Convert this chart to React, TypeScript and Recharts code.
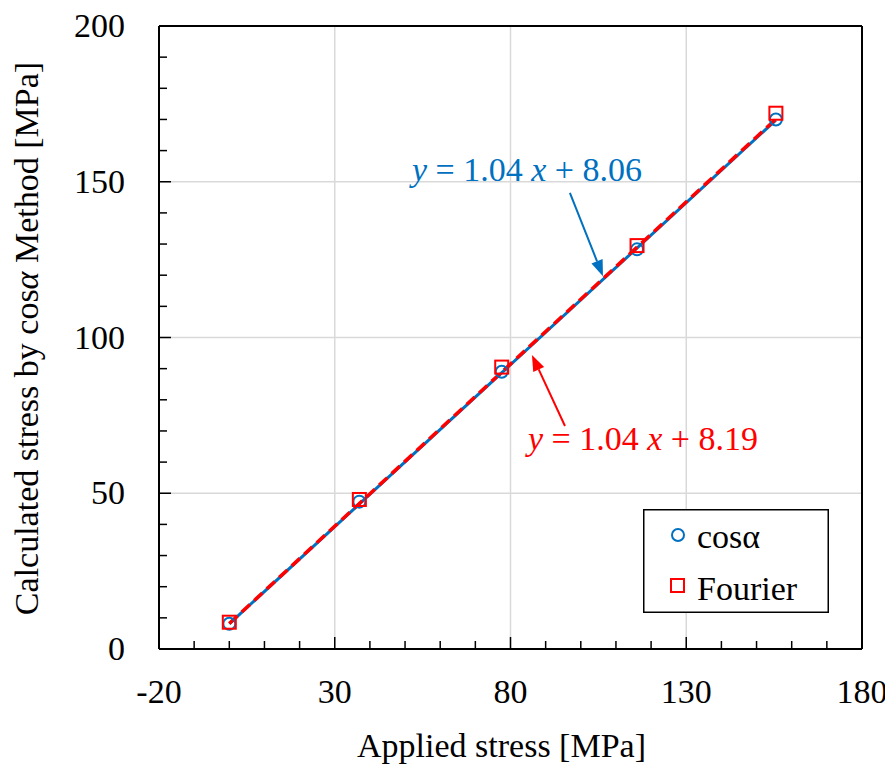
import {
  ScatterChart, Scatter, XAxis, YAxis, ReferenceLine, ReferenceDot, Legend, Label,
} from 'recharts'

const appliedStress = [0, 37, 77.5, 116, 155.5]
const cosAlphaStress = [8.1, 47.3, 89.0, 128.3, 170.0]
const fourierStress = [8.6, 48.0, 90.5, 129.5, 172.0]

const cosTrendX = [0, 155.5]
const cosTrendY = [8.06, 169.8]
const fourierTrendX = [0, 155.5]
const fourierTrendY = [8.19, 170.1]

const xTicks = [-20, -10, 0, 10, 20, 30, 40, 50, 60, 70, 80, 90, 100, 110, 120, 130, 140, 150, 160, 170, 180]
const xMajor = [-20, 30, 80, 130, 180]
const yTicks = [0, 10, 20, 30, 40, 50, 60, 70, 80, 90, 100, 110, 120, 130, 140, 150, 160, 170, 180, 190, 200]
const yMajor = [0, 50, 100, 150, 200]
const xGrid = [30, 80, 130]
const yGrid = [50, 100, 150]

const BLUE = '#0070C0'
const RED = '#FF0000'
const FONT = 'Times New Roman'
const FS = 34

const cosData = appliedStress.map((x, i) => ({ x, y: cosAlphaStress[i] }))
const fourierData = appliedStress.map((x, i) => ({ x, y: fourierStress[i] }))
const cosTrend = cosTrendX.map((x, i) => ({ x, y: cosTrendY[i] }))
const fourierTrend = fourierTrendX.map((x, i) => ({ x, y: fourierTrendY[i] }))

function XTick({ x = 0, y = 0, payload }: any) {
  const major = xMajor.includes(payload.value)
  return (
    <g>
      <line x1={x} x2={x} y1={y} y2={y - (major ? 12 : 8)} stroke="#000" strokeWidth={1.5} />
      {major && (
        <text x={x} y={y + 54} textAnchor="middle" fontFamily={FONT} fontSize={FS}>
          {payload.value}
        </text>
      )}
    </g>
  )
}

function YTick({ x = 0, y = 0, payload }: any) {
  const major = yMajor.includes(payload.value)
  return (
    <g>
      <line x1={x} x2={x + (major ? 12 : 8)} y1={y} y2={y} stroke="#000" strokeWidth={1.5} />
      {major && (
        <text x={x - 34} y={y + 11} textAnchor="end" fontFamily={FONT} fontSize={FS}>
          {payload.value}
        </text>
      )}
    </g>
  )
}

function Circle({ cx, cy }: any) {
  return <circle cx={cx} cy={cy} r={6} fill="none" stroke={BLUE} strokeWidth={2} />
}

function Square({ cx, cy }: any) {
  return <rect x={cx - 6.5} y={cy - 6.5} width={13} height={13} fill="none" stroke={RED} strokeWidth={2} />
}

const NoDot = () => <g />

function arrowShape(color: string) {
  return (p: any) => {
    const { x1, y1, x2, y2 } = p
    const dx = x2 - x1, dy = y2 - y1
    const len = Math.hypot(dx, dy)
    const ux = dx / len, uy = dy / len
    const hl = 16, hw = 6
    const bx = x2 - ux * hl, by = y2 - uy * hl
    return (
      <g>
        <line x1={x1} y1={y1} x2={bx} y2={by} stroke={color} strokeWidth={2} />
        <polygon
          points={`${x2},${y2} ${bx - uy * hw},${by + ux * hw} ${bx + uy * hw},${by - ux * hw}`}
          fill={color}
        />
      </g>
    )
  }
}

function equation(color: string, slope: string, icpt: string) {
  return (p: any) => (
    <text x={p.cx} y={p.cy} textAnchor="middle" fontFamily={FONT} fontSize={FS} fill={color}>
      <tspan fontStyle="italic">y</tspan>
      {` = ${slope} `}
      <tspan fontStyle="italic">x</tspan>
      {` + ${icpt}`}
    </text>
  )
}

function LegendBox() {
  return (
    <svg width={186} height={104} style={{ display: 'block' }}>
      <rect x={0.75} y={0.75} width={184.5} height={102.5} fill="#fff" stroke="#000" strokeWidth={1.5} />
      <circle cx={35} cy={26} r={6} fill="none" stroke={BLUE} strokeWidth={2} />
      <text x={54} y={39} fontFamily={FONT} fontSize={FS}>cosα</text>
      <rect x={28} y={70} width={13} height={13} fill="none" stroke={RED} strokeWidth={2} />
      <text x={54} y={91} fontFamily={FONT} fontSize={FS}>Fourier</text>
    </svg>
  )
}

export default function App() {
  return (
    <ScatterChart width={877} height={756} margin={{ top: 18, right: 23, left: 51, bottom: 25 }}>
      {xGrid.map((v) => (
        <ReferenceLine key={'gx' + v} x={v} stroke="#d9d9d9" strokeWidth={1.5} />
      ))}
      {yGrid.map((v) => (
        <ReferenceLine key={'gy' + v} y={v} stroke="#d9d9d9" strokeWidth={1.5} />
      ))}
      <ReferenceLine y={200} stroke="#000" strokeWidth={2} />
      <ReferenceLine x={180} stroke="#000" strokeWidth={2} />
      <XAxis
        type="number" dataKey="x" domain={[-20, 180]} ticks={xTicks} interval={0}
        height={90} tickSize={0} tickMargin={0} tickLine={false}
        axisLine={{ stroke: '#000', strokeWidth: 2 }} tick={<XTick />} allowDataOverflow
      >
        <Label
          content={({ viewBox }: any) => (
            <text x={viewBox.x + viewBox.width / 2 - 9} y={749} textAnchor="middle" fontFamily={FONT} fontSize={FS}>
              Applied stress [MPa]
            </text>
          )}
        />
      </XAxis>
      <YAxis
        type="number" dataKey="y" domain={[0, 200]} ticks={yTicks} interval={0}
        width={100} tickSize={0} tickMargin={0} tickLine={false}
        axisLine={{ stroke: '#000', strokeWidth: 2 }} tick={<YTick />} allowDataOverflow
      >
        <Label
          content={({ viewBox }: any) => {
            const cy = viewBox.y + viewBox.height / 2 + 1
            return (
              <text x={22} y={cy} transform={`rotate(-90 22 ${cy})`} textAnchor="middle" dominantBaseline="middle" fontFamily={FONT} fontSize={FS}>
                Calculated stress by cos<tspan fontStyle="italic">α</tspan> Method [MPa]
              </text>
            )
          }}
        />
      </YAxis>
      <Scatter name="cosα trend" data={cosTrend} line={{ stroke: BLUE, strokeWidth: 3 }} shape={NoDot} isAnimationActive={false} legendType="none" />
      <Scatter name="Fourier trend" data={fourierTrend} line={{ stroke: RED, strokeWidth: 3.5, strokeDasharray: '11 6' }} shape={NoDot} isAnimationActive={false} legendType="none" />
      <Scatter name="cosα" data={cosData} shape={Circle} isAnimationActive={false} />
      <Scatter name="Fourier" data={fourierData} shape={Square} isAnimationActive={false} />
      <ReferenceLine segment={[{ x: 96.9, y: 146.4 }, { x: 106.3, y: 119.7 }]} shape={arrowShape(BLUE)} />
      <ReferenceLine segment={[{ x: 95.5, y: 71.6 }, { x: 86.1, y: 94.4 }]} shape={arrowShape(RED)} />
      <ReferenceDot x={84.7} y={150.2} r={0} shape={equation(BLUE, '1.04', '8.06')} />
      <ReferenceDot x={117.7} y={63.9} r={0} shape={equation(RED, '1.04', '8.19')} />
      <Legend
        layout="vertical" align="center" verticalAlign="middle"
        wrapperStyle={{ left: 635, top: 501, width: 186, height: 104 }}
        content={() => <LegendBox />}
      />
    </ScatterChart>
  )
}
